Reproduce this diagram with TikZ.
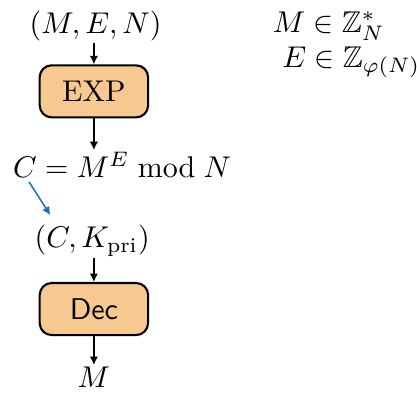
\documentclass[tikz,border=0pt]{standalone}
\usepackage{amsmath,amssymb}
\usetikzlibrary{arrows.meta, positioning}
\definecolor{boxorange}{RGB}{248,200,145}
\definecolor{arrowblue}{RGB}{25,110,205}

\begin{document}
\begin{tikzpicture}[
    blk/.style={draw, line width=0.7pt, fill=boxorange, rounded corners=4pt,
                minimum width=1.27cm, minimum height=0.61cm, inner sep=0pt},
    arr/.style={-{Latex[length=2.8pt,width=2.8pt]}, line width=0.5pt},
    lbl/.style={inner sep=0.5pt}]
    \useasboundingbox (0,0) rectangle (4.885,-4.616);
    % 加密
    \node[lbl] (in) at (1.12,-0.30) {$(M,E,N)$};
    \node[blk] (exp) at (1.10,-1.07) {EXP};
    \node[lbl, anchor=west] (c) at (0.13,-1.93) {$C = M^E \bmod N$};
    \draw[arr] (exp.north |- in.south) -- (exp.north);
    \draw[arr] (exp.south) -- (exp.south |- c.north);
    % 解密
    \coordinate (bs) at (0.34,-2.13);
    \coordinate (be) at (0.59,-2.52);
    \draw[arr, arrowblue] (bs) -- (be);
    \node[lbl] (ck) at (1.08,-2.82) {$(C,K_{\text{pri}})$};
    \node[blk] (dec) at (1.10,-3.62) {\textsf{Dec}};
    \node[lbl] (out) at (1.10,-4.42) {$M$};
    \draw[arr] (dec.north |- ck.south) -- (dec.north);
    \draw[arr] (dec.south) -- (out.north);
    % 参数
    \node[inner sep=0pt, anchor=base west] (m) at (3.19,-0.375) {$M \in \mathbb{Z}_N^*$};
    \node[inner sep=0pt, anchor=base west] (e) at (3.30,-0.785) {$E \in \mathbb{Z}_{\varphi(N)}$};
\end{tikzpicture}
\end{document}
